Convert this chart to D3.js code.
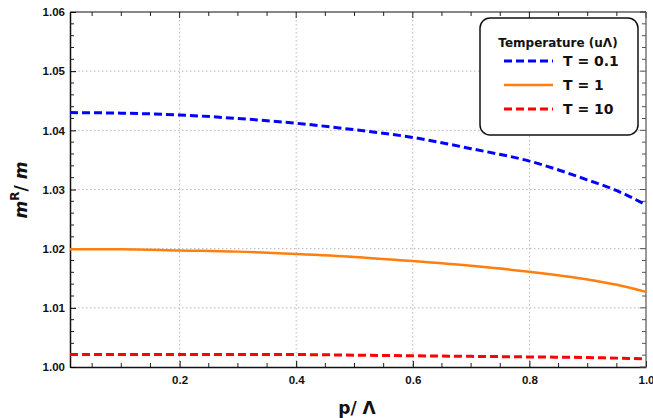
<!DOCTYPE html>
<html>
<head>
<meta charset="utf-8">
<script src="https://cdn.jsdelivr.net/npm/d3@7"></script>
<style>
  body { margin: 0; background: #fff; }
  svg { font-family: "DejaVu Sans", sans-serif; font-weight: bold; }
</style>
</head>
<body>
<svg id="chart" width="653" height="418"></svg>
<script>
// momentum p/Λ where the curves were read
const pValues = [0.012, 0.1, 0.2, 0.3, 0.4, 0.5, 0.6, 0.7, 0.8, 0.9, 0.95, 1.0];
// m^R / m for each temperature
const lowT = [1.0430, 1.0429, 1.0426, 1.0420, 1.0412, 1.0401, 1.0388, 1.0369, 1.0348, 1.0316, 1.0298, 1.0274];
const midT = [1.0199, 1.0199, 1.0197, 1.0195, 1.0191, 1.0186, 1.0179, 1.0171, 1.0161, 1.0148, 1.0139, 1.0127];
const highT = [1.0021, 1.0021, 1.0021, 1.0021, 1.0021, 1.0020, 1.0019, 1.0018, 1.0017, 1.0016, 1.0015, 1.0014];
const seriesNames = ["T = 0.1", "T = 1", "T = 10"];
const xTicks = [0.2, 0.4, 0.6, 0.8, 1.0];
const yTicks = [1.00, 1.01, 1.02, 1.03, 1.04, 1.05, 1.06];

const svg = d3.select("#chart");
const pLeft = 70, pRight = 646, pTop = 12, pBottom = 367;

const x = d3.scaleLinear().domain([0.012, 1.0]).range([pLeft, pRight]);
const y = d3.scaleLinear().domain([1.0, 1.06]).range([pBottom, pTop]);

// grid
const grid = svg.append("g").attr("stroke", "#b8b8b8").attr("stroke-width", 1).attr("stroke-dasharray", "1.5,2.5");
grid.selectAll(".gx").data(xTicks.slice(0, -1)).join("line")
  .attr("x1", d => x(d)).attr("x2", d => x(d)).attr("y1", pTop).attr("y2", pBottom);
grid.selectAll(".gy").data(yTicks.slice(1, -1)).join("line")
  .attr("y1", d => y(d)).attr("y2", d => y(d)).attr("x1", pLeft).attr("x2", pRight);

// axes: ticks point inward, mirrored on top and right
const xMinor = d3.range(0.05, 1.0, 0.05).filter(v => Math.abs(v * 5 - Math.round(v * 5)) > 1e-6);
const yMinor = d3.range(1.002, 1.06, 0.002).filter(v => Math.abs(v * 100 - Math.round(v * 100)) > 1e-6);

const xAxis = d3.axisBottom(x).tickValues(xTicks).tickFormat(d3.format(".1f")).tickSizeInner(-6).tickSizeOuter(0).tickPadding(9);
const gx = svg.append("g").attr("transform", `translate(0,${pBottom})`).call(xAxis);
gx.selectAll("text").attr("font-size", 11.5).attr("font-weight", "bold").attr("fill", "#111");

const yAxis = d3.axisLeft(y).tickValues(yTicks).tickFormat(d3.format(".2f")).tickSizeInner(-6).tickSizeOuter(0).tickPadding(5);
const gy = svg.append("g").attr("transform", `translate(${pLeft},0)`).call(yAxis);
gy.selectAll("text").attr("font-size", 11.5).attr("font-weight", "bold").attr("fill", "#111");

const ticks = svg.append("g").attr("stroke", "#222").attr("stroke-width", 1);
ticks.selectAll(".xm").data(xMinor).join("line")
  .attr("x1", d => x(d)).attr("x2", d => x(d)).attr("y1", pBottom).attr("y2", pBottom - 4);
ticks.selectAll(".xt").data(xMinor).join("line")
  .attr("x1", d => x(d)).attr("x2", d => x(d)).attr("y1", pTop).attr("y2", pTop + 4);
ticks.selectAll(".xT").data(xTicks).join("line")
  .attr("x1", d => x(d)).attr("x2", d => x(d)).attr("y1", pTop).attr("y2", pTop + 6);
ticks.selectAll(".ym").data(yMinor).join("line")
  .attr("y1", d => y(d)).attr("y2", d => y(d)).attr("x1", pLeft).attr("x2", pLeft + 4);
ticks.selectAll(".yr").data(yMinor).join("line")
  .attr("y1", d => y(d)).attr("y2", d => y(d)).attr("x1", pRight).attr("x2", pRight - 4).attr("stroke", "#555");
ticks.selectAll(".yR").data(yTicks).join("line")
  .attr("y1", d => y(d)).attr("y2", d => y(d)).attr("x1", pRight).attr("x2", pRight - 6).attr("stroke", "#555");

// frame
svg.append("line").attr("x1", pLeft).attr("x2", pRight).attr("y1", pTop).attr("y2", pTop).attr("stroke", "#111").attr("stroke-width", 1.2);
svg.append("line").attr("x1", pRight).attr("x2", pRight).attr("y1", pTop).attr("y2", pBottom).attr("stroke", "#555").attr("stroke-width", 1.2);
gx.select(".domain").attr("stroke", "#111").attr("stroke-width", 1.5);
gy.select(".domain").attr("stroke", "#111").attr("stroke-width", 1.5);

// curves
const series = [
  { name: seriesNames[0], values: lowT, color: "#0000ff", dash: "8,4", width: 3 },
  { name: seriesNames[1], values: midT, color: "#ff7f0e", dash: null, width: 2.5 },
  { name: seriesNames[2], values: highT, color: "#ff0000", dash: "8,4", width: 3 }
];
const line = d3.line().x(d => x(d[0])).y(d => y(d[1])).curve(d3.curveMonotoneX);
series.forEach(s => {
  svg.append("path")
    .datum(pValues.map((p, i) => [p, s.values[i]]))
    .attr("d", line)
    .attr("fill", "none")
    .attr("stroke", s.color)
    .attr("stroke-width", s.width)
    .attr("stroke-dasharray", s.dash);
});

// legend
const lg = svg.append("g");
lg.append("rect").attr("x", 480).attr("y", 18).attr("width", 158).attr("height", 117)
  .attr("rx", 10).attr("fill", "#fff").attr("stroke", "#111").attr("stroke-width", 1.5);
lg.append("text").attr("x", 558).attr("y", 47).attr("text-anchor", "middle")
  .attr("font-size", 12).attr("fill", "#111").text("Temperature (uΛ)");
series.forEach((s, i) => {
  const ly = 61 + i * 24;
  lg.append("line").attr("x1", 504).attr("x2", 553).attr("y1", ly).attr("y2", ly)
    .attr("stroke", s.color).attr("stroke-width", s.width).attr("stroke-dasharray", s.dash);
  lg.append("text").attr("x", 563).attr("y", ly + 5).attr("font-size", 14).attr("fill", "#111").text(s.name);
});

// axis titles
svg.append("text").attr("x", 357).attr("y", 414).attr("text-anchor", "middle")
  .attr("font-size", 17).attr("fill", "#111").text("p/ Λ");
const yl = svg.append("text").attr("transform", "translate(27,190) rotate(-90)")
  .attr("text-anchor", "middle").attr("font-size", 17).attr("fill", "#111");
yl.append("tspan").attr("font-style", "italic").text("m");
yl.append("tspan").attr("dy", -8).attr("font-size", 12).text("R");
yl.append("tspan").attr("dy", 8).text("/ ");
yl.append("tspan").attr("font-style", "italic").text("m");
</script>
</body>
</html>
